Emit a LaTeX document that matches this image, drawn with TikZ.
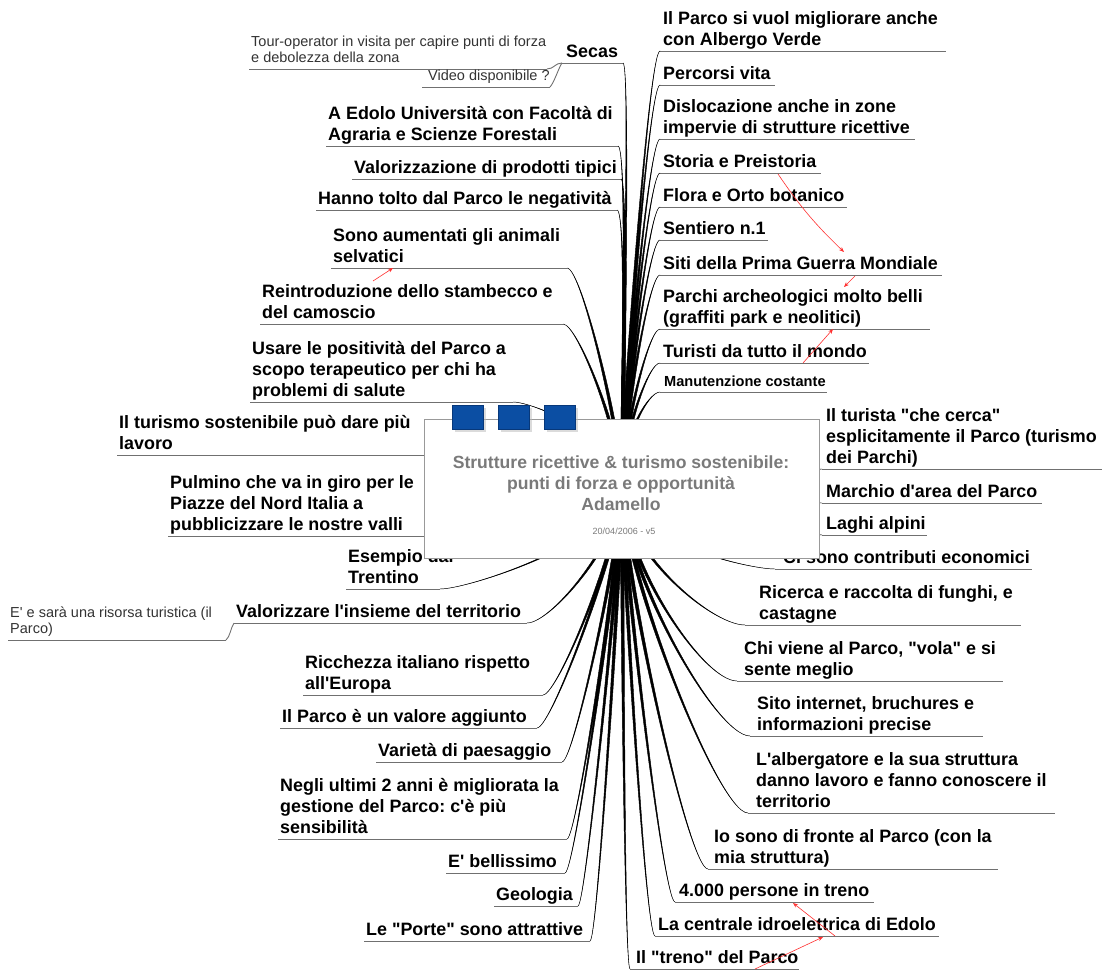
\documentclass[tikz,border=0pt]{standalone}
\usepackage{fontspec}
\setmainfont{Liberation Sans}[Ligatures=TeXOff]
\usetikzlibrary{arrows.meta,shadows}
\definecolor{ulgray}{HTML}{707070}
\definecolor{sqblue}{HTML}{0B4EA3}
\definecolor{sqedge}{HTML}{07387A}
\definecolor{titlegray}{HTML}{7A7A7A}
\definecolor{smallgray}{HTML}{333333}
\definecolor{relred}{HTML}{FF3030}
\frenchspacing
\tikzset{
  item/.style={font=\bfseries\fontsize{17.9}{21}\selectfont, align=left, inner sep=0pt, anchor=south west, execute at end node={\rule[-5pt]{0pt}{5pt}}},
  miditem/.style={font=\bfseries\fontsize{14.6}{18}\selectfont, align=left, inner sep=0pt, anchor=south west, execute at end node={\rule[-5pt]{0pt}{5pt}}},
  smallitem/.style={font=\fontsize{14.5}{16}\selectfont, text=smallgray, align=left, inner sep=0pt, anchor=south west, execute at end node={\rule[-6pt]{0pt}{6pt}}},
  uline/.style={draw=ulgray, line width=0.9pt},
  branch/.style={fill=black, draw=black, line width=0.45pt},
  rel/.style={draw=relred, line width=0.6pt, -{Stealth[length=5pt,width=4pt]}},
  centerbox/.style={draw=gray!80, fill=white, minimum width=395pt, minimum height=139pt, inner sep=0pt},
  bluesq/.style={draw=sqedge, fill=sqblue, minimum width=31pt, minimum height=24pt, inner sep=0pt, drop shadow={shadow xshift=2.5pt, shadow yshift=-2.5pt, fill=gray!55}},
}
% #1 name, #2 style, #3 text x, #4 underline left, #5 underline right, #6 underline y, #7 text
\newcommand\topic[7]{%
  \coordinate (#1-l) at (#4,#6);
  \coordinate (#1-r) at (#5,#6);
  \node[#2] (#1) at (#3,#6) {#7};
  \draw[uline] (#1-l) -- (#1-r);
}
% #1 end coordinate, #2 first control offset (from hub), #3 second control offset (from end)
\newcommand\twig[3]{%
  \filldraw[branch] ([xshift=-2pt]hub) .. controls +(#2) and +(#3) .. (#1)
     .. controls +(#3) and +(#2) .. ([xshift=2pt]hub) -- cycle;
}
\begin{document}
\begin{tikzpicture}[x=1pt,y=-1pt]
\useasboundingbox (0,0) rectangle (1102,971);
\coordinate (hub) at (622,488);

% ---------- topics ----------
% right, top
\topic{R1}{item}{663}{660}{946}{51}{Il Parco si vuol migliorare anche\\con Albergo Verde}
\topic{R2}{item}{663}{660}{775}{85}{Percorsi vita}
\topic{R3}{item}{663}{660}{915}{139}{Dislocazione anche in zone\\impervie di strutture ricettive}
\topic{R4}{item}{663}{660}{821}{173}{Storia e Preistoria}
\topic{R5}{item}{663}{660}{847}{207}{Flora e Orto botanico}
\topic{R6}{item}{663}{660}{768}{240}{Sentiero n.1}
\topic{R7}{item}{663}{660}{942}{275}{Siti della Prima Guerra Mondiale}
\topic{R8}{item}{663}{660}{930}{329}{Parchi archeologici molto belli\\(graffiti park e neolitici)}
\topic{R9}{item}{663}{660}{869}{363}{Turisti da tutto il mondo}
\topic{R10}{miditem}{664}{660}{827}{392}{Manutenzione costante}
% right, middle and bottom
\topic{R11}{item}{826}{822}{1102}{469}{Il turista "che cerca"\\esplicitamente il Parco (turismo\\dei Parchi)}
\topic{R12}{item}{826}{822}{1042}{503}{Marchio d'area del Parco}
\topic{R13}{item}{826}{822}{927}{535}{Laghi alpini}
\topic{R14}{item}{783}{775}{1032}{569}{Ci sono contributi economici}
\topic{R15}{item}{759}{745}{1021}{625}{Ricerca e raccolta di funghi, e\\castagne}
\topic{R16}{item}{744}{737}{1003}{681}{Chi viene al Parco, "vola" e si\\sente meglio}
\topic{R17}{item}{757}{750}{983}{736}{Sito internet, bruchures e\\informazioni precise}
\topic{R18}{item}{756}{748}{1055}{813}{L'albergatore e la sua struttura\\danno lavoro e fanno conoscere il\\territorio}
\topic{R19}{item}{714}{708}{998}{869}{Io sono di fronte al Parco (con la\\mia struttura)}
\topic{R20}{item}{679}{675}{874}{902}{4.000 persone in treno}
\topic{R21}{item}{658}{655}{939}{936}{La centrale idroelettrica di Edolo}
\topic{R22}{item}{636}{630}{799}{969}{Il "treno" del Parco}
% left, top
\topic{L1}{item}{566}{562}{623}{63}{Secas}
\topic{S1}{smallitem}{251}{249}{547}{69}{Tour-operator in visita per capire punti di forza\\e debolezza della zona}
\topic{S2}{smallitem}{428}{422}{550}{87}{Video disponibile ?}
\topic{L2}{item}{328}{326}{618}{146}{A Edolo Università con Facoltà di\\Agraria e Scienze Forestali}
\topic{L3}{item}{354}{352}{621}{179}{Valorizzazione di prodotti tipici}
\topic{L4}{item}{318}{316}{617}{210}{Hanno tolto dal Parco le negatività}
\topic{L5}{item}{333}{331}{567}{268}{Sono aumentati gli animali\\selvatici}
\topic{L6}{item}{262}{260}{563}{324}{Reintroduzione dello stambecco e\\del camoscio}
\topic{L7}{item}{252}{250}{513}{402}{Usare le positività del Parco a\\scopo terapeutico per chi ha\\problemi di salute}
% left, middle and bottom
\topic{L8}{item}{119}{117}{426}{455}{Il turismo sostenibile può dare più\\lavoro}
\topic{L9}{item}{170}{168}{426}{536}{Pulmino che va in giro per le\\Piazze del Nord Italia a\\pubblicizzare le nostre valli}
\topic{L10}{item}{348}{346}{440}{589}{Esempio dal\\Trentino}
\topic{L11}{item}{236}{234}{527}{623}{Valorizzare l'insieme del territorio}
\topic{S3}{smallitem}{10}{8}{226}{640}{E' e sarà una risorsa turistica (il\\Parco)}
\topic{L12}{item}{305}{303}{543}{695}{Ricchezza italiano rispetto\\all'Europa}
\topic{L13}{item}{282}{280}{537}{728}{Il Parco è un valore aggiunto}
\topic{L14}{item}{378}{376}{562}{762}{Varietà di paesaggio}
\topic{L15}{item}{280}{278}{567}{839}{Negli ultimi 2 anni è migliorata la\\gestione del Parco: c'è più\\sensibilità}
\topic{L16}{item}{448}{446}{565}{873}{E' bellissimo}
\topic{L17}{item}{496}{494}{578}{906}{Geologia}
\topic{L18}{item}{366}{364}{590}{941}{Le "Porte" sono attrattive}

% sub-branch joins
\draw[uline] (S1-r) .. controls +(7,0) and +(-7,0) .. (L1-l);
\draw[uline] (S2-r) .. controls +(4,-4) and +(-3,4) .. (L1-l);
\draw[uline] (S3-r) .. controls +(4,-3) and +(-3,4) .. (L11-l);

% ---------- branches ----------
\foreach \e in {R1,R2,R3,R4,R5,R6,R7,R8,R9,R10} {\twig{\e-l}{0,-50}{-12,0}}
\twig{L1-r}{0,-50}{8,0}
\twig{L2-r}{0,-50}{10,0}
\twig{L3-r}{0,-50}{8,0}
\twig{L4-r}{0,-50}{10,0}
\twig{L5-r}{0,-50}{15,0}
\twig{L6-r}{0,-50}{15,0}
\twig{L7-r}{0,-50}{20,0}
\twig{L8-r}{0,0}{20,0}
\twig{L9-r}{0,0}{20,0}
\twig{R11-l}{0,0}{-20,0}
\twig{R12-l}{0,0}{-20,0}
\twig{R13-l}{0,0}{-20,0}
\twig{L10-r}{0,50}{30,0}
\twig{L11-r}{0,50}{25,0}
\twig{L12-r}{0,50}{15,0}
\twig{L13-r}{0,50}{15,0}
\twig{L14-r}{0,50}{12,0}
\twig{L15-r}{0,50}{10,0}
\twig{L16-r}{0,50}{10,0}
\twig{L17-r}{0,50}{8,0}
\twig{L18-r}{0,50}{8,0}
\twig{R22-l}{0,50}{-6,0}
\twig{R21-l}{0,50}{-10,0}
\twig{R20-l}{0,60}{-12,0}
\twig{R19-l}{0,80}{-20,0}
\twig{R18-l}{0,80}{-30,0}
\twig{R17-l}{0,80}{-35,0}
\twig{R16-l}{0,70}{-35,0}
\twig{R15-l}{0,60}{-35,0}
\twig{R14-l}{0,50}{-30,0}

% ---------- central topic ----------
\node[centerbox] (center) at (621.5,488.5) {};
\node[font=\bfseries\fontsize{17.6}{21}\selectfont, text=titlegray, align=center, anchor=north, inner sep=0pt] (title) at (621,456)
  {Strutture ricettive \& turismo sostenibile:\\punti di forza e opportunità\\Adamello};
\node[font=\fontsize{9}{10}\selectfont, text=titlegray, inner sep=0pt] (date) at (624,531) {20/04/2006 - v5};
\node[bluesq] (sq1) at (467.5,417.5) {};
\node[bluesq] (sq2) at (514,417.5) {};
\node[bluesq] (sq3) at (560,417.5) {};

% ---------- relationships ----------
\coordinate (a1s) at (778,174); \coordinate (a1e) at (844,252);
\coordinate (a2s) at (855,276); \coordinate (a2e) at (844,287);
\coordinate (a3s) at (803,363); \coordinate (a3e) at (833,329);
\coordinate (a4s) at (373,281); \coordinate (a4e) at (393,268);
\coordinate (a5s) at (835,936); \coordinate (a5e) at (793,903);
\coordinate (a6s) at (755,969); \coordinate (a6e) at (823,937);
\draw[rel] (a1s) to[bend right=6] (a1e);
\draw[rel] (a2s) -- (a2e);
\draw[rel] (a3s) -- (a3e);
\draw[rel] (a4s) -- (a4e);
\draw[rel] (a5s) -- (a5e);
\draw[rel] (a6s) -- (a6e);
\end{tikzpicture}
\end{document}
